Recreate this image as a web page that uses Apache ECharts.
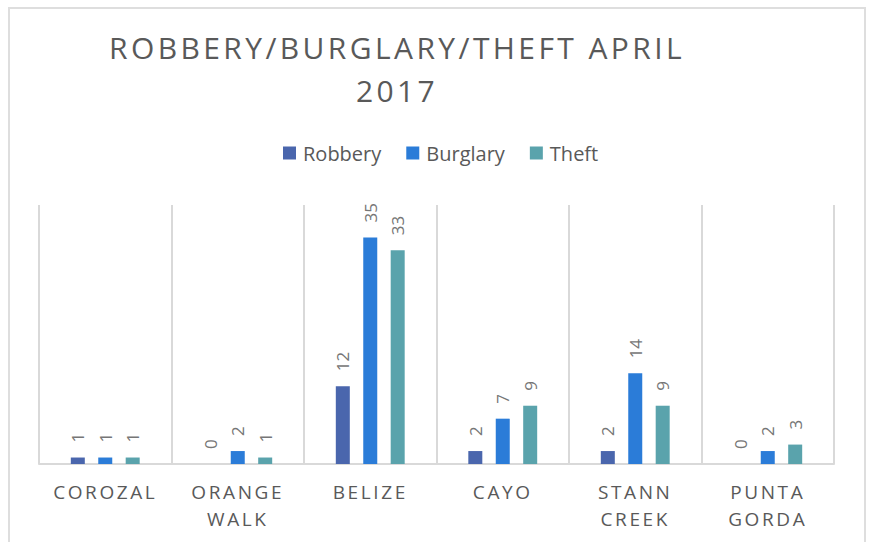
<!DOCTYPE html>
<html>
<head>
<meta charset="utf-8">
<title>Robbery/Burglary/Theft April 2017</title>
<script src="https://cdn.jsdelivr.net/npm/echarts@6/dist/echarts.min.js"></script>
<style>
  body { margin: 0; background: #fff; }
  .frame {
    position: absolute;
    left: 8px;
    top: 7px;
    width: 854px;
    height: 600px;
    border: 2px solid #dedede;
  }
  #chart {
    position: absolute;
    left: 0;
    top: 0;
    width: 869px;
    height: 542px;
  }
  /* spaced capitals like the original title / axis labels */
  #chart text[style*="30px"] { letter-spacing: 3.4px; }
  #chart text[style*="19px"] { letter-spacing: 2.6px; }
</style>
</head>
<body>
<div class="frame"></div>
<div id="chart"></div>
<script>
const districts = ['COROZAL', 'ORANGE\nWALK', 'BELIZE', 'CAYO', 'STANN\nCREEK', 'PUNTA\nGORDA']
const robbery = [1, 0, 12, 2, 2, 0]
const burglary = [1, 2, 35, 7, 14, 2]
const theft = [1, 1, 33, 9, 9, 3]

const font = '"Open Sans", "Noto Sans", sans-serif'

function barSeries (name, data, color) {
  return {
    name: name,
    type: 'bar',
    data: data,
    barWidth: 14,
    barGap: '96%',
    itemStyle: { color: color },
    label: {
      show: true,
      position: 'top',
      rotate: 90,
      align: 'left',
      verticalAlign: 'middle',
      distance: 15,
      color: '#767676',
      fontSize: 17,
      fontFamily: font
    }
  }
}

const chart = echarts.init(document.getElementById('chart'), null, { renderer: 'svg' })

const option = {
  animation: false,
  title: {
    text: 'ROBBERY/BURGLARY/THEFT APRIL\n2017',
    left: 397,
    top: 26,
    padding: 0,
    textAlign: 'center',
    textStyle: {
      color: '#595959',
      fontSize: 30,
      fontWeight: 'normal',
      fontFamily: font,
      lineHeight: 43
    }
  },
  legend: {
    left: 283,
    top: 143,
    padding: 0,
    icon: 'rect',
    itemWidth: 13,
    itemHeight: 13,
    itemGap: 25,
    textStyle: {
      color: '#595959',
      fontSize: 20,
      fontFamily: font,
      padding: [0, 0, 0, 2]
    }
  },
  grid: {
    left: 39,
    right: 35,
    top: 205,
    bottom: 78
  },
  xAxis: {
    type: 'category',
    data: districts,
    axisLine: { lineStyle: { color: '#d9d9d9', width: 2 } },
    axisTick: { show: false },
    splitLine: {
      show: true,
      showMinLine: true,
      showMaxLine: true,
      lineStyle: { color: '#d9d9d9', width: 2 }
    },
    axisLabel: {
      color: '#595959',
      fontSize: 19,
      fontFamily: font,
      lineHeight: 27,
      margin: 14,
      interval: 0
    }
  },
  yAxis: {
    type: 'value',
    min: 0,
    max: 40,
    show: false,
    splitLine: { show: false }
  },
  series: [
    barSeries('Robbery', robbery, '#4a66ad'),
    barSeries('Burglary', burglary, '#2b7cd8'),
    barSeries('Theft', theft, '#5aa3ac')
  ]
}

chart.setOption(option)
</script>
</body>
</html>
